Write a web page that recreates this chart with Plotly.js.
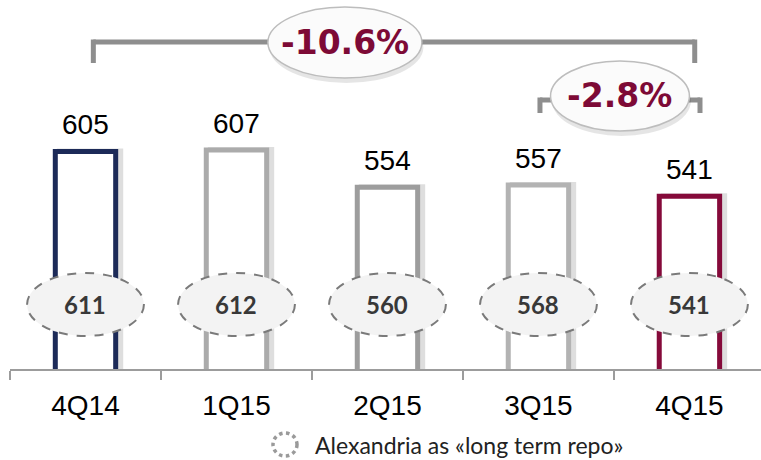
<!DOCTYPE html>
<html>
<head>
<meta charset="utf-8">
<script src="https://cdn.plot.ly/plotly-3.0.1.min.js"></script>
<style>html,body{margin:0;padding:0;background:#fff;}#chart{width:761px;height:460px;}</style>
</head>
<body>
<div id="chart"></div>
<script>
// ---- data ----
var categories = ['4Q14', '1Q15', '2Q15', '3Q15', '4Q15'];
var values = [605, 607, 554, 557, 541];
var repoValues = [611, 612, 560, 568, 541];
var changeLabels = ['-10.6%', '-2.8%'];
var legendLabel = 'Alexandria as «long term repo»';

// ---- styling ----
var barColors = ['#1c2a58', '#ababab', '#9d9d9d', '#b3b3b3', '#850a3a'];
var maroon = '#7d0a36';
var bracketColor = '#8e8e8e';
var plotH = 369; // plot area height in px (paper 0..1)
function py(p) { return (plotH - p) / plotH; } // pixel y -> paper y

var shapes = [];
var annotations = [];

// value labels above bars
categories.forEach(function (c, i) {
  annotations.push({
    x: c, y: values[i], xref: 'x', yref: 'y', text: String(values[i]),
    showarrow: false, yanchor: 'bottom', yshift: 9,
    font: {family: 'Liberation Sans, Arial, sans-serif', size: 28, color: '#000'}
  });
});

// dashed ellipses with repo values
categories.forEach(function (c, i) {
  shapes.push({
    type: 'circle', xref: 'x', yref: 'paper',
    x0: i - 0.387, x1: i + 0.387, y0: py(336), y1: py(273),
    fillcolor: '#f3f3f3', line: {color: '#7a7a7a', width: 2, dash: 'dash'}, layer: 'above'
  });
  annotations.push({
    x: i, y: py(304.5), xref: 'x', yref: 'paper', text: '<b>' + repoValues[i] + '</b>',
    showarrow: false, xanchor: 'center', yanchor: 'middle',
    font: {family: 'Lato, Open Sans, sans-serif', size: 24, color: '#383838'}
  });
});

// brackets
function bracket(xa, xb, yTop, yBot) {
  var ln = {color: bracketColor, width: 5};
  shapes.push({type: 'line', xref: 'x', yref: 'paper', x0: xa, x1: xb, y0: py(yTop), y1: py(yTop), line: ln, layer: 'above'});
  shapes.push({type: 'line', xref: 'x', yref: 'paper', x0: xa, x1: xa, y0: py(yTop - 2.5), y1: py(yBot), line: ln, layer: 'above'});
  shapes.push({type: 'line', xref: 'x', yref: 'paper', x0: xb, x1: xb, y0: py(yTop - 2.5), y1: py(yBot), line: ln, layer: 'above'});
}
bracket(0.052, 4.035, 42, 63);
bracket(3.01, 4.07, 100, 113);

// percent ellipses
function pctEllipse(xc, hw, yTop, yBot, label) {
  shapes.push({type: 'circle', xref: 'x', yref: 'paper', x0: xc - hw + 0.01, x1: xc + hw + 0.01,
    y0: py(yBot + 5), y1: py(yTop + 5), fillcolor: 'rgba(0,0,0,0.10)', line: {width: 0}, layer: 'above'});
  shapes.push({type: 'circle', xref: 'x', yref: 'paper', x0: xc - hw, x1: xc + hw,
    y0: py(yBot), y1: py(yTop), fillcolor: '#fbfbfb', line: {color: '#bdbdbd', width: 1.5}, layer: 'above'});
  annotations.push({x: xc, y: py((yTop + yBot) / 2), xref: 'x', yref: 'paper', text: '<b>' + label + '</b>',
    showarrow: false, xanchor: 'center', yanchor: 'middle',
    font: {family: 'DejaVu Sans, Verdana, sans-serif', size: 33, color: maroon}});
}
pctEllipse(1.718, 0.51, 7, 78, changeLabels[0]);
pctEllipse(3.54, 0.46, 61, 131, changeLabels[1]);

// legend: dotted circle + text
shapes.push({type: 'circle', xref: 'paper', yref: 'paper',
  x0: (273 - 10) / 751, x1: (297 - 10) / 751, y0: py(456), y1: py(433),
  line: {color: '#9a9a9a', width: 3.5, dash: 'dot'}, fillcolor: 'rgba(0,0,0,0)'});
annotations.push({x: (313 - 10) / 751, y: py(445), xref: 'paper', yref: 'paper', text: legendLabel,
  showarrow: false, xanchor: 'left', yanchor: 'middle',
  font: {family: 'Lato, Open Sans, sans-serif', size: 23, color: '#222'}});

// soft shadow to the right of each bar
var shadow = {
  type: 'bar', x: categories, y: values, width: 0.40, offset: -0.2 + 0.03,
  marker: {color: 'rgba(0,0,0,0)', line: {color: 'rgba(0,0,0,0.13)', width: 6}},
  hoverinfo: 'none'
};
var trace = {
  type: 'bar', x: categories, y: values, width: 0.40, offset: -0.2,
  marker: {color: '#ffffff', line: {color: barColors, width: 5}},
  hoverinfo: 'none'
};

var layout = {
  width: 761, height: 460,
  margin: {l: 10, r: 0, t: 0, b: 91, pad: 0},
  paper_bgcolor: '#fff', plot_bgcolor: '#fff',
  showlegend: false, barmode: 'overlay',
  xaxis: {
    type: 'category', range: [-0.5, 4.474], showgrid: false, zeroline: false,
    showline: true, linecolor: '#9c9c9c', linewidth: 2,
    ticks: 'outside', tickson: 'boundaries', ticklen: 9, tickcolor: '#9c9c9c', tickwidth: 1.5,
    ticklabelstandoff: 10,
    tickfont: {family: 'Liberation Sans, Arial, sans-serif', size: 28, color: '#000'}
  },
  yaxis: {range: [294.3, 821.4], visible: false, showgrid: false, zeroline: false},
  shapes: shapes,
  annotations: annotations
};

Plotly.newPlot('chart', [shadow, trace], layout, {displayModeBar: false, staticPlot: true});
</script>
</body>
</html>
